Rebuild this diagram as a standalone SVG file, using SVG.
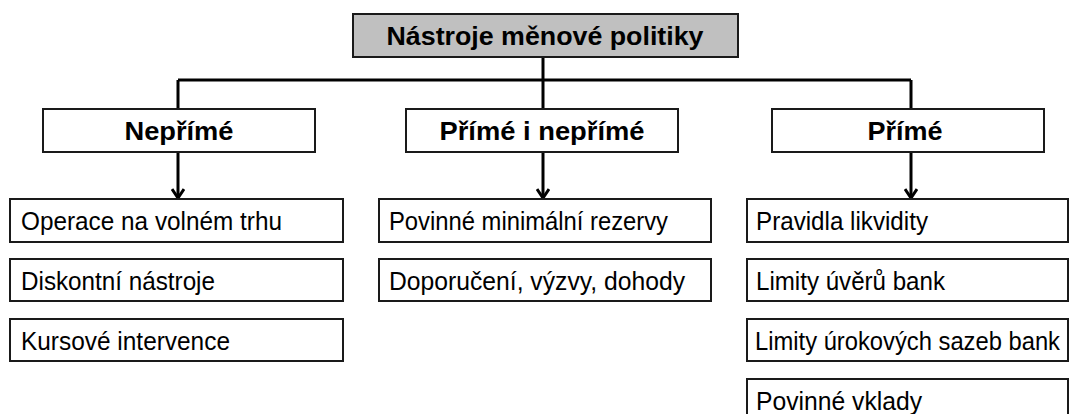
<svg xmlns="http://www.w3.org/2000/svg" width="1070" height="414" viewBox="0 0 1070 414">
  <style>
    .box { fill: #ffffff; stroke: #1a1a1a; stroke-width: 2; }
    .root { fill: #c0c0c0; stroke: #1a1a1a; stroke-width: 2; }
    .head { font-family: "Liberation Sans", Arial, sans-serif; font-weight: bold; font-size: 26px; fill: #000; text-anchor: middle; }
    .item { font-family: "Liberation Sans", Arial, sans-serif; font-size: 25px; fill: #000; }
    .wire { fill: none; stroke: #000; stroke-width: 3; }
  </style>
  <defs>
    <marker id="arrow" viewBox="0 0 14 12" refX="7" refY="11" markerWidth="14" markerHeight="12" markerUnits="userSpaceOnUse" orient="0">
      <path d="M1,2 L7,11 L13,2" fill="none" stroke="#000" stroke-width="3"/>
    </marker>
  </defs>

  <rect width="1070" height="414" fill="#ffffff"/>

  <!-- connectors -->
  <g id="connectors">
    <path class="wire" d="M543,57 V80"/>
    <path class="wire" d="M178,80 H911"/>
    <path class="wire" d="M178,80 V109 M543,80 V109 M911,80 V109"/>
    <path class="wire" d="M178,152 V198" marker-end="url(#arrow)"/>
    <path class="wire" d="M543,152 V198" marker-end="url(#arrow)"/>
    <path class="wire" d="M911,152 V198" marker-end="url(#arrow)"/>
  </g>

  <!-- root -->
  <g id="root">
    <rect class="root" x="353" y="14" width="385" height="43"/>
    <text class="head" x="545" y="45" textLength="317" lengthAdjust="spacingAndGlyphs">Nástroje měnové politiky</text>
  </g>

  <!-- categories -->
  <g id="neprime">
    <rect class="box" x="43" y="109" width="272" height="43"/>
    <text class="head" x="179" y="140" textLength="109" lengthAdjust="spacingAndGlyphs">Nepřímé</text>
  </g>
  <g id="prime-i-neprime">
    <rect class="box" x="406" y="109" width="272" height="43"/>
    <text class="head" x="542" y="140" textLength="205" lengthAdjust="spacingAndGlyphs">Přímé i nepřímé</text>
  </g>
  <g id="prime">
    <rect class="box" x="772" y="109" width="272" height="43"/>
    <text class="head" x="905" y="140" textLength="75" lengthAdjust="spacingAndGlyphs">Přímé</text>
  </g>

  <!-- indirect instruments -->
  <g id="operace">
    <rect class="box" x="10" y="199" width="333" height="43"/>
    <text class="item" x="21" y="230" textLength="261" lengthAdjust="spacingAndGlyphs">Operace na volném trhu</text>
  </g>
  <g id="diskontni">
    <rect class="box" x="10" y="259" width="333" height="42"/>
    <text class="item" x="21" y="290" textLength="194" lengthAdjust="spacingAndGlyphs">Diskontní nástroje</text>
  </g>
  <g id="kursove">
    <rect class="box" x="10" y="319" width="333" height="42"/>
    <text class="item" x="21" y="350" textLength="209" lengthAdjust="spacingAndGlyphs">Kursové intervence</text>
  </g>

  <!-- direct and indirect instruments -->
  <g id="rezervy">
    <rect class="box" x="379" y="199" width="332" height="43"/>
    <text class="item" x="389" y="230" textLength="279" lengthAdjust="spacingAndGlyphs">Povinné minimální rezervy</text>
  </g>
  <g id="doporuceni">
    <rect class="box" x="379" y="259" width="332" height="42"/>
    <text class="item" x="389" y="290" textLength="296" lengthAdjust="spacingAndGlyphs">Doporučení, výzvy, dohody</text>
  </g>

  <!-- direct instruments -->
  <g id="likvidita">
    <rect class="box" x="747" y="199" width="321" height="43"/>
    <text class="item" x="756" y="230" textLength="172" lengthAdjust="spacingAndGlyphs">Pravidla likvidity</text>
  </g>
  <g id="limity-uveru">
    <rect class="box" x="747" y="259" width="321" height="42"/>
    <text class="item" x="756" y="290" textLength="189" lengthAdjust="spacingAndGlyphs">Limity úvěrů bank</text>
  </g>
  <g id="limity-sazeb">
    <rect class="box" x="747" y="319" width="321" height="42"/>
    <text class="item" x="755" y="350" textLength="305" lengthAdjust="spacingAndGlyphs">Limity úrokových sazeb bank</text>
  </g>
  <g id="vklady">
    <rect class="box" x="747" y="379" width="321" height="43"/>
    <text class="item" x="756" y="410" textLength="166" lengthAdjust="spacingAndGlyphs">Povinné vklady</text>
  </g>
</svg>
